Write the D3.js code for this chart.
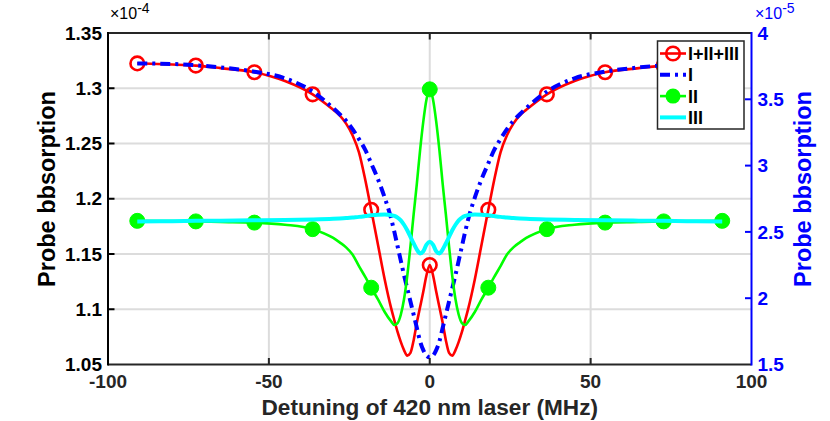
<!DOCTYPE html>
<html>
<head>
<meta charset="utf-8">
<script src="https://cdn.jsdelivr.net/npm/d3@7"></script>
<style>
  html, body { margin: 0; padding: 0; background: #fff; }
  svg { display: block; font-family: "Liberation Sans", Arial, Helvetica, sans-serif; }
</style>
</head>
<body>
<svg id="chart" width="830" height="421"></svg>
<script>
// ---------------- data ----------------
const detuning = [-90.9,-80,-72.7,-65,-54.5,-45,-36.4,-30,-28,-26,-24,-22,-20,-18.2,-16,-14,-12,-11,-10,-9,-8,-7,-6,-5,-4,-3,-2,-1,
  0,
  1,2,3,4,5,6,7,8,9,10,11,12,14,16,18.2,20,22,24,26,28,30,36.4,45,54.5,65,72.7,80,90.9];

const totalI_II_III = [1.3225,1.3215,1.3205,1.3182,1.3145,1.3065,1.2945,1.2805,1.2755,1.2680,1.2575,1.2420,1.2165,1.1900,1.1570,1.1270,1.1010,1.0900,1.0795,1.0705,1.0630,1.0580,1.0605,1.0720,1.0880,1.1020,1.1160,1.1310,
  1.1400,
  1.1310,1.1160,1.1020,1.0880,1.0720,1.0605,1.0580,1.0630,1.0705,1.0795,1.0900,1.1010,1.1270,1.1570,1.1900,1.2165,1.2420,1.2575,1.2680,1.2755,1.2805,1.2945,1.3065,1.3145,1.3182,1.3205,1.3215,1.3225];

const seriesI = [1.3225,1.3220,1.3208,1.3188,1.3150,1.3090,1.2970,1.2820,1.2765,1.2705,1.2630,1.2540,1.2440,1.2320,1.2170,1.2010,1.1820,1.1700,1.1570,1.1440,1.1310,1.1190,1.1070,1.0950,1.0830,1.0710,1.0630,1.0580,
  1.0565,
  1.0580,1.0630,1.0710,1.0830,1.0950,1.1070,1.1190,1.1310,1.1440,1.1570,1.1700,1.1820,1.2010,1.2170,1.2320,1.2440,1.2540,1.2630,1.2705,1.2765,1.2820,1.2970,1.3090,1.3150,1.3188,1.3208,1.3220,1.3225];

const seriesII = [1.1800,1.1798,1.1795,1.1790,1.1784,1.1765,1.1725,1.1645,1.1605,1.1560,1.1495,1.1390,1.1290,1.1195,1.1085,1.0975,1.0890,1.0858,1.0875,1.0950,1.1090,1.1300,1.1570,1.1860,1.2140,1.2440,1.2700,1.2900,
  1.2990,
  1.2900,1.2700,1.2440,1.2140,1.1860,1.1570,1.1300,1.1090,1.0950,1.0875,1.0858,1.0890,1.0975,1.1085,1.1195,1.1290,1.1390,1.1495,1.1560,1.1605,1.1645,1.1725,1.1765,1.1784,1.1790,1.1795,1.1798,1.1800];

const seriesIII = [1.1795,1.1797,1.1800,1.1802,1.1805,1.1808,1.1812,1.1818,1.1821,1.1825,1.1831,1.1836,1.1843,1.1850,1.1856,1.1858,1.1852,1.1845,1.1830,1.1805,1.1765,1.1715,1.1655,1.1595,1.1540,1.1505,1.1525,1.1585,
  1.1610,
  1.1585,1.1525,1.1505,1.1540,1.1595,1.1655,1.1715,1.1765,1.1805,1.1830,1.1845,1.1852,1.1858,1.1856,1.1850,1.1843,1.1836,1.1831,1.1825,1.1821,1.1818,1.1812,1.1808,1.1805,1.1802,1.1800,1.1797,1.1795];

const markerDetuning = [-90.9,-72.7,-54.5,-36.4,-18.2,0,18.2,36.4,54.5,72.7,90.9];

const xTicks = [-100,-50,0,50,100];
const yLeftTicks = [1.05,1.1,1.15,1.2,1.25,1.3,1.35];
const yRightTicks = [1.5,2,2.5,3,3.5,4];
const legendLabels = ["I+II+III","I","II","III"];
const xLabel = "Detuning of 420 nm laser (MHz)";
const yLabel = "Probe bbsorption";

// ---------------- layout ----------------
const svg = d3.select("#chart");
const L = 108, R = 751.5, T = 33, B = 364.5;
const x = d3.scaleLinear().domain([-100, 100]).range([L, R]);
const yL = d3.scaleLinear().domain([1.05, 1.35]).range([B, T]);
const yR = d3.scaleLinear().domain([1.5, 4]).range([B, T]);

const blue = "#0000ff";

// grid
const grid = svg.append("g");
xTicks.filter(t => t > -100 && t < 100).forEach(t => {
  grid.append("line").attr("x1", x(t)).attr("x2", x(t)).attr("y1", T).attr("y2", B)
    .attr("stroke", "#dcdcdc").attr("stroke-width", 2);
});
yLeftTicks.filter(t => t > 1.05 && t < 1.35).forEach(t => {
  grid.append("line").attr("x1", L).attr("x2", R).attr("y1", yL(t)).attr("y2", yL(t))
    .attr("stroke", "#dcdcdc").attr("stroke-width", 2);
});

// series
const pts = vals => detuning.map((d, i) => [d, vals[i]]);
const line = d3.line().x(d => x(d[0])).y(d => yL(d[1])).curve(d3.curveMonotoneX);
const isMarker = d => markerDetuning.includes(d[0]);

const g = svg.append("g");
g.append("path").datum(pts(totalI_II_III)).attr("d", line)
  .attr("fill", "none").attr("stroke", "#ff0000").attr("stroke-width", 2.6);
g.selectAll("circle.red").data(pts(totalI_II_III).filter(isMarker)).join("circle")
  .attr("cx", d => x(d[0])).attr("cy", d => yL(d[1])).attr("r", 6.8)
  .attr("fill", "none").attr("stroke", "#ff0000").attr("stroke-width", 2.6);

g.append("path").datum(pts(seriesI)).attr("d", line)
  .attr("fill", "none").attr("stroke", blue).attr("stroke-width", 4)
  .attr("stroke-dasharray", "10,5,3,5");

g.append("path").datum(pts(seriesII)).attr("d", line)
  .attr("fill", "none").attr("stroke", "#00ff00").attr("stroke-width", 2.6);
g.selectAll("circle.green").data(pts(seriesII).filter(isMarker)).join("circle")
  .attr("cx", d => x(d[0])).attr("cy", d => yL(d[1])).attr("r", 7.5)
  .attr("fill", "#00ff00").attr("stroke", "#00ff00").attr("stroke-width", 1);

g.append("path").datum(pts(seriesIII)).attr("d", line)
  .attr("fill", "none").attr("stroke", "#00ffff").attr("stroke-width", 4);

// axes frame
const frame = svg.append("g");
frame.append("line").attr("x1", L).attr("x2", R).attr("y1", T).attr("y2", T).attr("stroke", "#262626").attr("stroke-width", 2);
frame.append("line").attr("x1", L).attr("x2", R).attr("y1", B).attr("y2", B).attr("stroke", "#262626").attr("stroke-width", 2);
frame.append("line").attr("x1", L).attr("x2", L).attr("y1", T - 1).attr("y2", B + 1).attr("stroke", "#000").attr("stroke-width", 2);
frame.append("line").attr("x1", R).attr("x2", R).attr("y1", T - 1).attr("y2", B + 1).attr("stroke", blue).attr("stroke-width", 2);

const tickLen = 6.5;
const fontTick = 19;
// x ticks
xTicks.forEach(t => {
  if (t > -100 && t < 100) {
    frame.append("line").attr("x1", x(t)).attr("x2", x(t)).attr("y1", B).attr("y2", B - tickLen).attr("stroke", "#262626").attr("stroke-width", 2);
    frame.append("line").attr("x1", x(t)).attr("x2", x(t)).attr("y1", T).attr("y2", T + tickLen).attr("stroke", "#262626").attr("stroke-width", 2);
  }
  svg.append("text").attr("x", x(t)).attr("y", B + 23).attr("text-anchor", "middle")
    .attr("font-size", fontTick).attr("font-weight", "bold").attr("fill", "#262626").text(t);
});
// left y ticks
yLeftTicks.forEach(t => {
  if (t > 1.05 && t < 1.35)
    frame.append("line").attr("x1", L).attr("x2", L + tickLen).attr("y1", yL(t)).attr("y2", yL(t)).attr("stroke", "#000").attr("stroke-width", 2);
  svg.append("text").attr("x", L - 6).attr("y", yL(t)).attr("dy", "0.35em").attr("text-anchor", "end")
    .attr("font-size", fontTick).attr("font-weight", "bold").attr("fill", "#000").text(d3.format("")(t));
});
// right y ticks
yRightTicks.forEach(t => {
  if (t > 1.5 && t < 4)
    frame.append("line").attr("x1", R).attr("x2", R - tickLen).attr("y1", yR(t)).attr("y2", yR(t)).attr("stroke", blue).attr("stroke-width", 2);
  svg.append("text").attr("x", R + 6).attr("y", yR(t)).attr("dy", "0.35em").attr("text-anchor", "start")
    .attr("font-size", fontTick).attr("font-weight", "bold").attr("fill", blue).text(t);
});

// exponent labels
function expLabel(x0, base, exp, color) {
  const t = svg.append("text").attr("x", x0).attr("y", 19).attr("font-size", 16).attr("fill", color);
  t.append("tspan").text("×" + base);
  t.append("tspan").attr("dy", -6).attr("font-size", 14).text(exp);
}
expLabel(110, "10", "-4", "#000");
expLabel(755, "10", "-5", blue);

// axis labels
svg.append("text").attr("x", (L + R) / 2).attr("y", 415).attr("text-anchor", "middle")
  .attr("font-size", 22.6).attr("font-weight", "bold").attr("fill", "#262626").text(xLabel);
svg.append("text").attr("transform", `translate(55,189) rotate(-90)`).attr("text-anchor", "middle")
  .attr("font-size", 23.5).attr("font-weight", "bold").attr("fill", "#000").text(yLabel);
svg.append("text").attr("transform", `translate(811,189) rotate(-90)`).attr("text-anchor", "middle")
  .attr("font-size", 23.5).attr("font-weight", "bold").attr("fill", blue).text(yLabel);

// legend
const lg = svg.append("g");
lg.append("rect").attr("x", 657.5).attr("y", 41).attr("width", 86.5).attr("height", 88)
  .attr("fill", "#fff").attr("stroke", "#262626").attr("stroke-width", 1.5);
const legStyles = [
  {color: "#ff0000", w: 2.6, dash: null, marker: "open"},
  {color: blue, w: 4, dash: "10,5,3,5", marker: null},
  {color: "#00ff00", w: 2.6, dash: null, marker: "filled"},
  {color: "#00ffff", w: 4, dash: null, marker: null}
];
legendLabels.forEach((lab, i) => {
  const yy = 53.5 + i * 21.3;
  const s = legStyles[i];
  const ln = lg.append("line").attr("x1", 660).attr("x2", 686).attr("y1", yy).attr("y2", yy)
    .attr("stroke", s.color).attr("stroke-width", s.w);
  if (s.dash) ln.attr("stroke-dasharray", s.dash);
  if (s.marker === "open")
    lg.append("circle").attr("cx", 673).attr("cy", yy).attr("r", 6.8).attr("fill", "none").attr("stroke", s.color).attr("stroke-width", 2.6);
  if (s.marker === "filled")
    lg.append("circle").attr("cx", 673).attr("cy", yy).attr("r", 7.5).attr("fill", s.color);
  lg.append("text").attr("x", 688).attr("y", yy).attr("dy", "0.36em")
    .attr("font-size", 18).attr("font-weight", "bold").attr("fill", "#000").text(lab);
});
</script>
</body>
</html>
